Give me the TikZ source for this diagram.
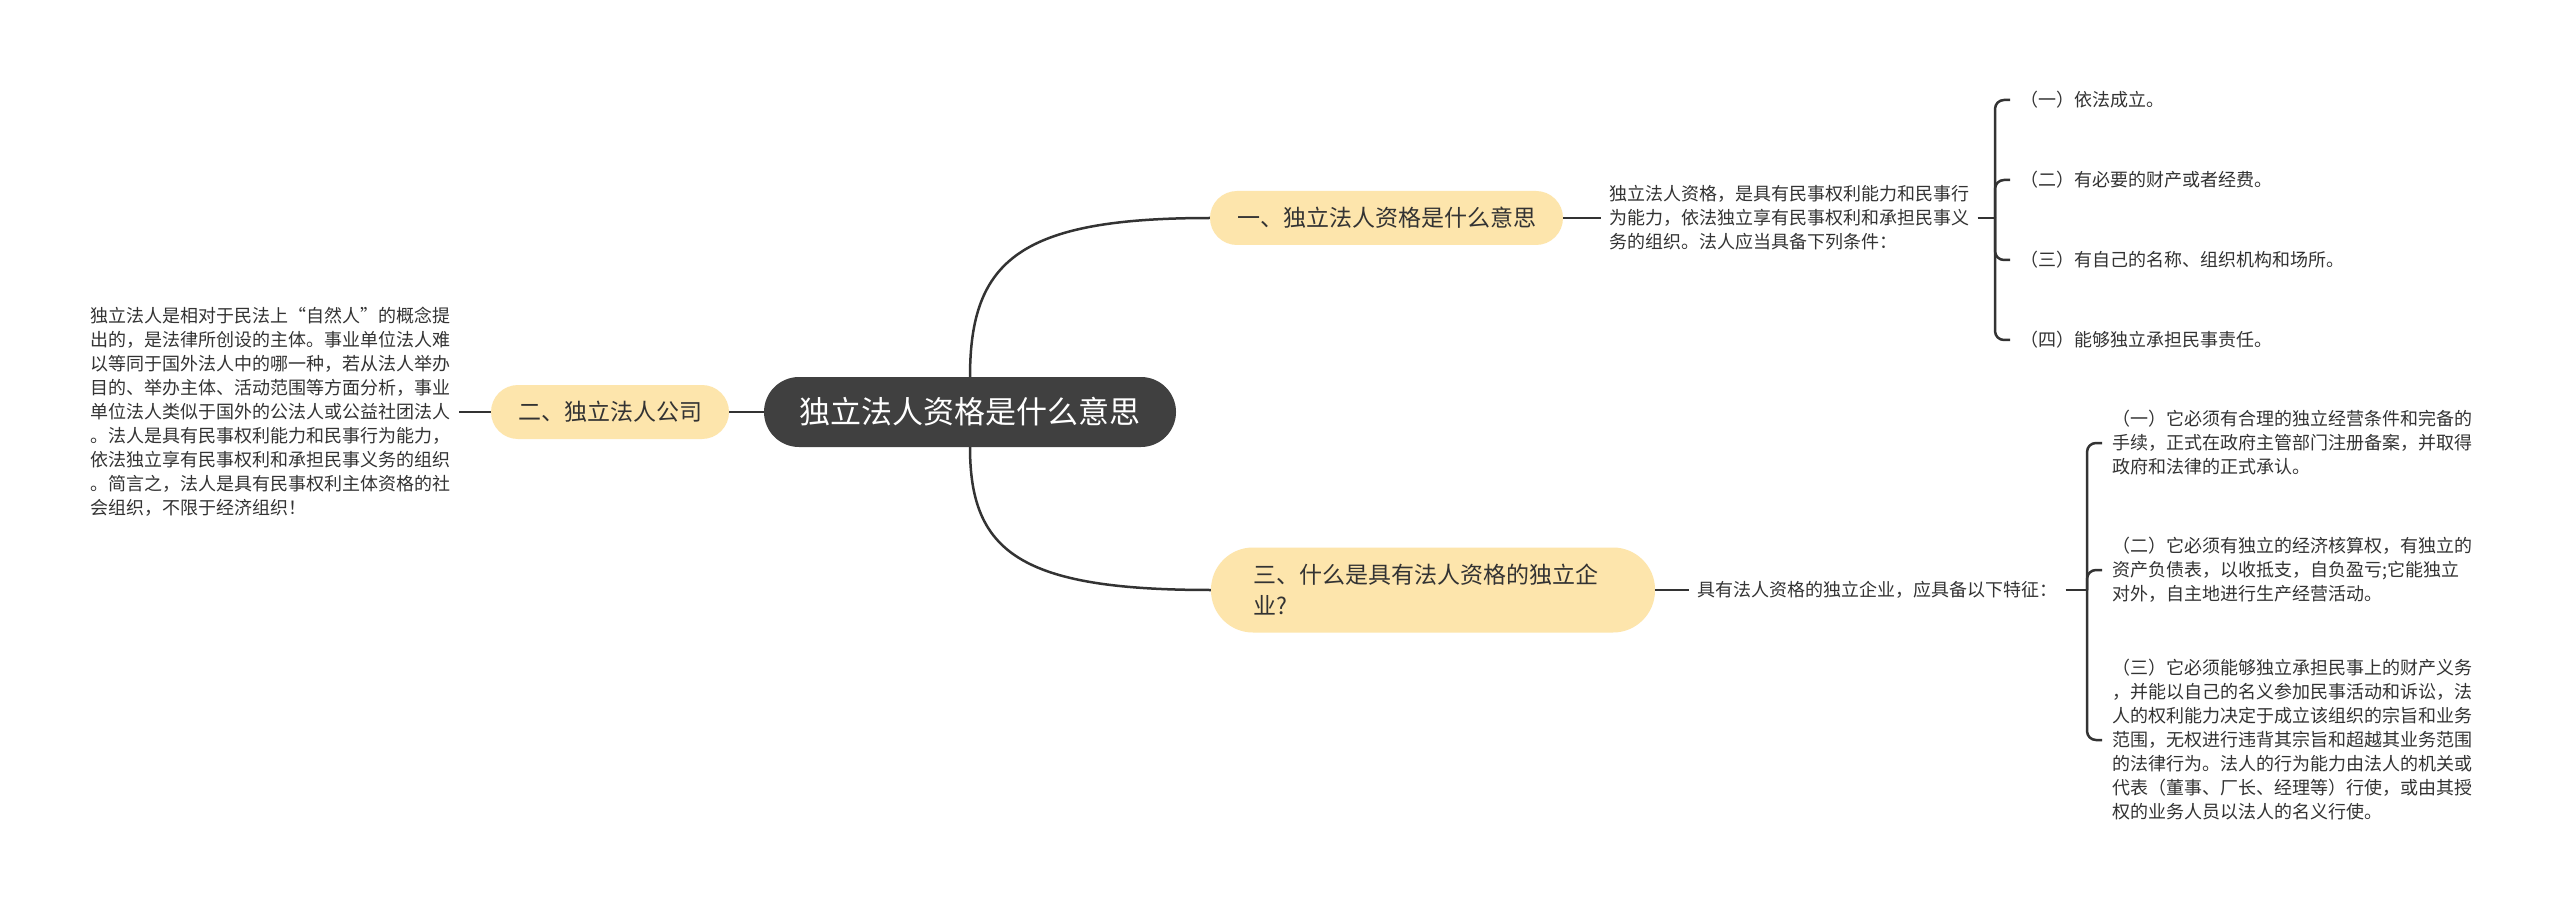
\documentclass[tikz,border=0pt]{standalone}
\usepackage{fontspec}
\setmainfont{Noto Sans CJK SC}
\usetikzlibrary{positioning,calc}
\definecolor{RootGray}   {RGB}{ 64, 64, 64}
\definecolor{TopicYellow}{RGB}{253,229,172}
\definecolor{InkGray}    {RGB}{ 51, 51, 51}
\definecolor{LineGray}   {RGB}{ 51, 51, 51}
\tikzset{
  %% 中心主题
  rootnode/.style={rectangle,rounded corners=35pt,fill=RootGray,text=white,
                   minimum width=412pt,minimum height=70pt,inner sep=0pt,
                   font=\fontsize{31pt}{36pt}\selectfont},
  %% 分支主题
  topicbox/.style={rectangle,rounded corners=27pt,fill=TopicYellow,text=InkGray,
                   minimum height=54pt,inner xsep=27pt,inner ysep=0pt,
                   font=\fontsize{23pt}{31pt}\selectfont,align=left},
  %% 说明文字
  descnode/.style={inner xsep=8pt,inner ysep=2pt,text=InkGray,align=left,
                   font=\fontsize{18pt}{24pt}\selectfont},
  leafnode/.style={descnode,inner xsep=10pt},
  %% 连线
  linkline/.style={draw=LineGray,line width=2.5pt},
  bracket/.style={linkline,rounded corners=9pt},
}
\begin{document}
\begin{tikzpicture}[x=1pt,y=-1pt]
    \fill[white] (0,0) rectangle (2560,909);
    \useasboundingbox (0,0) rectangle (2560,909);

    %% ── 中心与三个分支 ─────────────────────────────
    \node[rootnode] (root) at (970,412) {独立法人资格是什么意思};
    \node[topicbox] (t2) at (610,412) {二、独立法人公司};
    \node[topicbox] (t1) at (1386.5,218) {一、独立法人资格是什么意思};
    \node[topicbox,text width=360pt,inner xsep=42pt,minimum height=85pt,
          rounded corners=42pt] (t3) at (1433,590)
      {三、什么是具有法人资格的独立企\\业?};

    \draw[linkline] (root) -- (t2);
    \draw[linkline] (root.north) .. controls (970,260) and (1020,218) .. (t1.west);
    \draw[linkline] (root.south) .. controls (970,552) and (1020,590) .. (t3.west);

    %% ── 左侧说明 ───────────────────────────────────
    \node[descnode,left=32pt of t2] (d2)
      {独立法人是相对于民法上“自然人”的概念提\\
       出的，是法律所创设的主体。事业单位法人难\\
       以等同于国外法人中的哪一种，若从法人举办\\
       目的、举办主体、活动范围等方面分析，事业\\
       单位法人类似于国外的公法人或公益社团法人\\
       。法人是具有民事权利能力和民事行为能力，\\
       依法独立享有民事权利和承担民事义务的组织\\
       。简言之，法人是具有民事权利主体资格的社\\
       会组织，不限于经济组织！};
    \draw[linkline] (t2) -- (d2);

    %% ── 分支一：条件 ───────────────────────────────
    \node[descnode,right=38pt of t1] (d1)
      {独立法人资格，是具有民事权利能力和民事行\\
       为能力，依法独立享有民事权利和承担民事义\\
       务的组织。法人应当具备下列条件：};
    \coordinate (j1) at (1995,218);
    \draw[linkline] (t1) -- (d1);
    \draw[linkline] (d1.east) -- (j1);

    \node[leafnode,anchor=west] (c11) at (2010,100) {（一）依法成立。};
    \node[leafnode,anchor=west] (c12) at (2010,180) {（二）有必要的财产或者经费。};
    \node[leafnode,anchor=west] (c13) at (2010,260) {（三）有自己的名称、组织机构和场所。};
    \node[leafnode,anchor=west] (c14) at (2010,340) {（四）能够独立承担民事责任。};
    \foreach \c in {c11,c12,c13,c14}
      \draw[bracket] (j1) |- (\c.west);

    %% ── 分支三：特征 ───────────────────────────────
    \node[descnode,right=34pt of t3] (d3)
      {具有法人资格的独立企业，应具备以下特征：};
    \coordinate (j3) at (2087,590);
    \draw[linkline] (t3) -- (d3);
    \draw[linkline] (d3.east) -- (j3);

    \node[leafnode,anchor=west] (c31) at (2102,443)
      {（一）它必须有合理的独立经营条件和完备的\\
       手续，正式在政府主管部门注册备案，并取得\\
       政府和法律的正式承认。};
    \node[leafnode,anchor=west] (c32) at (2102,570)
      {（二）它必须有独立的经济核算权，有独立的\\
       资产负债表，以收抵支，自负盈亏;它能独立\\
       对外，自主地进行生产经营活动。};
    \node[leafnode,anchor=west] (c33) at (2102,740)
      {（三）它必须能够独立承担民事上的财产义务\\
       ，并能以自己的名义参加民事活动和诉讼，法\\
       人的权利能力决定于成立该组织的宗旨和业务\\
       范围，无权进行违背其宗旨和超越其业务范围\\
       的法律行为。法人的行为能力由法人的机关或\\
       代表（董事、厂长、经理等）行使，或由其授\\
       权的业务人员以法人的名义行使。};
    \foreach \c in {c31,c32,c33}
      \draw[bracket] (j3) |- (\c.west);
\end{tikzpicture}
\end{document}
